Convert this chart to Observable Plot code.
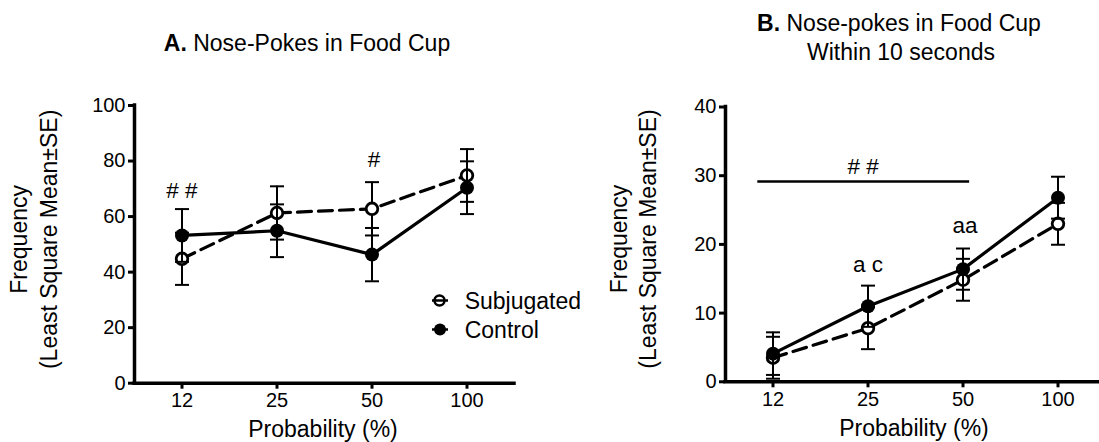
<!DOCTYPE html>
<html><head><meta charset="utf-8">
<script src="https://cdn.jsdelivr.net/npm/d3@7"></script>
<script src="https://cdn.jsdelivr.net/npm/@observablehq/plot@0.6"></script>
<style>
html,body{margin:0;padding:0;background:#fff;overflow:hidden;}
#wrap{position:relative;width:1099px;height:442px;overflow:hidden;background:#fff;}
#wrap svg{position:absolute;top:0;}
</style></head><body><div id="wrap"></div>
<script>
// ---- data ----
const probLabels = ["12", "25", "50", "100"];
const xIndex = [0, 1, 2, 3];
const seriesNames = ["Subjugated", "Control"];

const aSubjMean = [44.8, 61.3, 62.8, 74.8];
const aSubjSE   = [9.4, 9.6, 9.6, 9.5];
const aCtrlMean = [53.2, 54.9, 46.3, 70.4];
const aCtrlSE   = [9.5, 9.5, 9.6, 9.5];

const bSubjMean = [3.5, 7.8, 14.85, 23.0];
const bSubjSE   = [3.05, 3.05, 3.05, 3.05];
const bCtrlMean = [4.1, 11.0, 16.4, 26.8];
const bCtrlSE   = [3.1, 3.0, 3.0, 3.05];

const aYTicks = [0, 20, 40, 60, 80, 100];
const bYTicks = [0, 10, 20, 30, 40];

const aNoteText = ["# #", "#"];
const aNoteX = [0, 2.02];
const aNoteY = [66.8, 78.0];

const bNoteText = ["# #", "a c", "aa"];
const bNoteX = [0.95, 1.0, 2.02];
const bNoteY = [30.3, 16.0, 21.6];
const bBracketX = [-0.16, 2.07];
const bBracketY = 29.15;

const yTitleLines = ["Frequency", "(Least Square Mean\u00b1SE)"];
const xTitle = "Probability (%)";

// ---- helpers ----
const FONT = "Liberation Sans, Arial, Helvetica, sans-serif";
const xDomain = [-0.5, 3.5];
const rows = (m, se) => xIndex.map((x, i) => ({x, y: m[i], lo: m[i] - se[i], hi: m[i] + se[i]}));
const capSymbol = {draw(ctx) { ctx.moveTo(-7, 0); ctx.lineTo(7, 0); }};

function errMarks(R) {
  return [
    Plot.ruleX(R, {x: "x", y1: "lo", y2: "hi", stroke: "black", strokeWidth: 2}),
    Plot.dot(R, {x: "x", y: "lo", r: 1, symbol: capSymbol, fill: "none", stroke: "black", strokeWidth: 2}),
    Plot.dot(R, {x: "x", y: "hi", r: 1, symbol: capSymbol, fill: "none", stroke: "black", strokeWidth: 2})
  ];
}

function panel(o) {
  const S = rows(o.subjM, o.subjSE);
  const C = rows(o.ctrlM, o.ctrlSE);
  const notes = o.noteText.map((t, i) => ({t, x: o.noteX[i], y: o.noteY[i]}));
  return Plot.plot({
    width: o.width, height: 442,
    marginLeft: o.mL, marginRight: o.mR, marginTop: o.mT, marginBottom: o.mB,
    x: {domain: xDomain},
    y: {domain: o.yDomain},
    style: {fontFamily: FONT, color: "black", background: "transparent", overflow: "visible"},
    marks: [
      Plot.axisY({ticks: o.yTicks, tickSize: 6, tickPadding: 3, fontSize: 20, strokeWidth: 3, label: null}),
      Plot.axisX({ticks: xIndex, tickFormat: i => probLabels[i], tickSize: 6, tickPadding: 4, fontSize: 20, strokeWidth: 3, label: null}),
      Plot.ruleX([xDomain[0]], {stroke: "black", strokeWidth: 3.5, strokeLinecap: "square"}),
      Plot.ruleY([o.yDomain[0]], {stroke: "black", strokeWidth: 3.5, strokeLinecap: "square"}),
      ...(o.extra || []),
      // Subjugated
      ...errMarks(S),
      Plot.line(S, {x: "x", y: "y", stroke: "black", strokeWidth: 3.2, strokeDasharray: "14,7"}),
      Plot.dot(S, {x: "x", y: "y", r: 5.8, fill: "white", stroke: "black", strokeWidth: 2.8}),
      // Control
      ...errMarks(C),
      Plot.line(C, {x: "x", y: "y", stroke: "black", strokeWidth: 3.2}),
      Plot.dot(C, {x: "x", y: "y", r: 7, fill: "black", stroke: "none"}),
      // annotations
      Plot.text(notes, {x: "x", y: "y", text: "t", fontSize: 22.5, lineAnchor: "bottom", fill: "black"}),
      // axis titles
      Plot.text([yTitleLines[0]], {frameAnchor: "left", rotate: -90, dx: o.yt1dx, dy: o.ytdy, fontSize: 23, textAnchor: "middle", lineAnchor: "bottom", fill: "black"}),
      Plot.text([yTitleLines[1]], {frameAnchor: "left", rotate: -90, dx: o.yt2dx, dy: o.ytdy, fontSize: 23, textAnchor: "middle", lineAnchor: "bottom", fill: "black"}),
      Plot.text([xTitle], {frameAnchor: "bottom", dx: -1.5, dy: o.xtdy, fontSize: 23, textAnchor: "middle", lineAnchor: "bottom", fill: "black"})
    ]
  });
}

const wrap = document.getElementById("wrap");

const chartA = panel({
  width: 550, mL: 134, mR: 36, mT: 105, mB: 59.3,
  yDomain: [0, 100], yTicks: aYTicks,
  subjM: aSubjMean, subjSE: aSubjSE, ctrlM: aCtrlMean, ctrlSE: aCtrlSE,
  noteText: aNoteText, noteX: aNoteX, noteY: aNoteY,
  yt1dx: -107.5, yt2dx: -78, ytdy: -5, xtdy: 53.3
});
chartA.style.left = "0px";
wrap.appendChild(chartA);

const chartB = panel({
  width: 560, mL: 175, mR: 5, mT: 106.5, mB: 60.7,
  yDomain: [0, 40], yTicks: bYTicks,
  subjM: bSubjMean, subjSE: bSubjSE, ctrlM: bCtrlMean, ctrlSE: bCtrlSE,
  noteText: bNoteText, noteX: bNoteX, noteY: bNoteY,
  extra: [Plot.ruleY([bBracketY], {x1: bBracketX[0], x2: bBracketX[1], stroke: "black", strokeWidth: 2.4})],
  yt1dx: -98.5, yt2dx: -70, ytdy: -5.4, xtdy: 53.7
});
chartB.style.left = "550px";
wrap.appendChild(chartB);

// ---- titles and legend overlay ----
const NS = "http://www.w3.org/2000/svg";
const ov = document.createElementNS(NS, "svg");
ov.setAttribute("width", 1099); ov.setAttribute("height", 442);
ov.style.left = "0px"; ov.style.pointerEvents = "none";
ov.setAttribute("font-family", FONT);
ov.innerHTML = `
  <text x="307" y="51" text-anchor="middle" font-size="23"><tspan font-weight="bold">A.</tspan> Nose-Pokes in Food Cup</text>
  <text x="899" y="31" text-anchor="middle" font-size="23"><tspan font-weight="bold">B.</tspan> Nose-pokes in Food Cup</text>
  <text x="901" y="60" text-anchor="middle" font-size="23">Within 10 seconds</text>
  <circle cx="439.5" cy="300.5" r="5" fill="white" stroke="black" stroke-width="2.5"/>
  <line x1="432" y1="300.5" x2="448" y2="300.5" stroke="black" stroke-width="2.5"/>
  <text x="464.7" y="309" font-size="23">${seriesNames[0]}</text>
  <line x1="432" y1="329.5" x2="448" y2="329.5" stroke="black" stroke-width="2.5"/>
  <circle cx="440" cy="329.5" r="6" fill="black"/>
  <text x="464.7" y="338" font-size="23">${seriesNames[1]}</text>
`;
wrap.appendChild(ov);
</script></body></html>
